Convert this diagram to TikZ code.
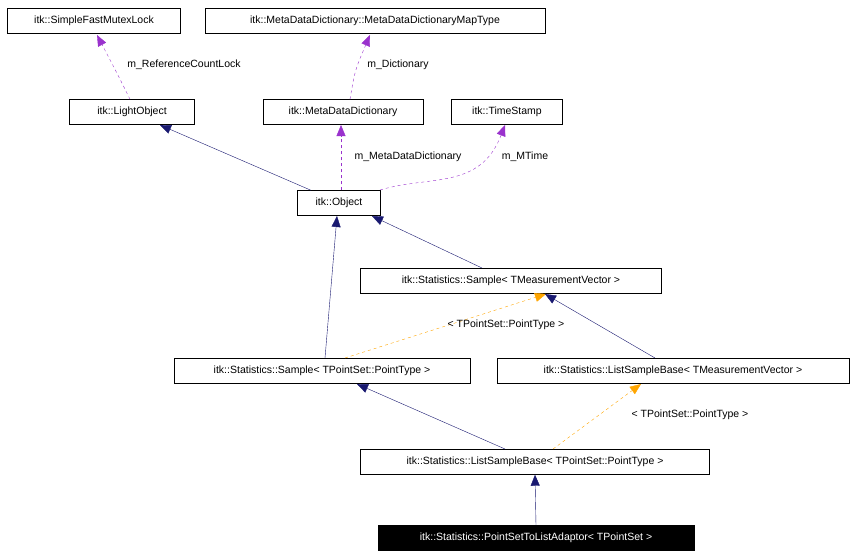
\documentclass[tikz,border=0pt]{standalone}
\usepackage{fontspec}
\setmainfont{Liberation Sans}
\usetikzlibrary{arrows.meta}
\definecolor{navy}{RGB}{25,25,112}
\definecolor{purp}{RGB}{154,50,205}
\definecolor{orng}{RGB}{255,165,0}
\begin{document}
\begin{tikzpicture}[x=1pt,y=-1pt,
  box/.style={draw,fill=white,inner sep=0pt,minimum height=25pt,font=\fontsize{10.5}{12}\selectfont},
  inh/.style={navy,-{Triangle[length=11pt,width=9pt]}},
  use/.style={purp,dashed,-{Triangle[length=11pt,width=9pt]}},
  tpl/.style={orng,dashed,-{Triangle[length=11pt,width=9pt]}},
  lab/.style={font=\fontsize{10.5}{12}\selectfont,inner sep=1pt}]
\useasboundingbox (0,0) rectangle (856,559);
\node[box,minimum width=173pt] (mutex) at (94,21) {itk::SimpleFastMutexLock};
\node[box,minimum width=340pt] (map) at (375,21) {itk::MetaDataDictionary::MetaDataDictionaryMapType};
\node[box,minimum width=125pt] (light) at (132,112) {itk::LightObject};
\node[box,minimum width=160pt] (mdd) at (343,112) {itk::MetaDataDictionary};
\node[box,minimum width=111pt] (ts) at (507,112) {itk::TimeStamp};
\node[box,minimum width=83pt] (obj) at (339,203) {itk::Object};
\node[box,minimum width=301pt] (smv) at (511,281) {itk::Statistics::Sample< TMeasurementVector >};
\node[box,minimum width=296pt] (sps) at (322,371) {itk::Statistics::Sample< TPointSet::PointType >};
\node[box,minimum width=352pt] (lmv) at (673,371) {itk::Statistics::ListSampleBase< TMeasurementVector >};
\node[box,minimum width=349pt] (lps) at (535,462) {itk::Statistics::ListSampleBase< TPointSet::PointType >};
\node[box,minimum width=316pt,fill=black,text=white] (adp) at (536,538) {itk::Statistics::PointSetToListAdaptor< TPointSet >};

\draw[use] (light.north) ++(-2,0) .. controls (118,75) .. (97,35);
\node[lab] (l1) at (184,65) {m\_ReferenceCountLock};
\draw[use] (mdd.north) ++(7,0) .. controls (355,70) .. (370,35);
\node[lab] (l2) at (398,65) {m\_Dictionary};
\draw[inh] (obj.north) ++(-28,0) -- (160,125);
\draw[use] (obj.north) ++(2,0) -- (341,125);
\node[lab] (l3) at (408,157) {m\_MetaDataDictionary};
\draw[use] (380,190) .. controls (430,175) and (480,190) .. (505,125);
\node[lab] (l4) at (525,157) {m\_MTime};
\draw[inh] (482,268) -- (372,216);
\draw[inh] (325,358) -- (337,216);
\draw[tpl] (345,358) -- (546,294);
\node[lab] (l5) at (506,325) {< TPointSet::PointType >};
\draw[inh] (655,358) -- (545,294);
\draw[inh] (505,449) -- (357,384);
\draw[tpl] (553,449) -- (641,384);
\node[lab] (l6) at (690,415) {< TPointSet::PointType >};
\draw[inh] (adp.north) -- (lps.south);
\end{tikzpicture}
\end{document}
